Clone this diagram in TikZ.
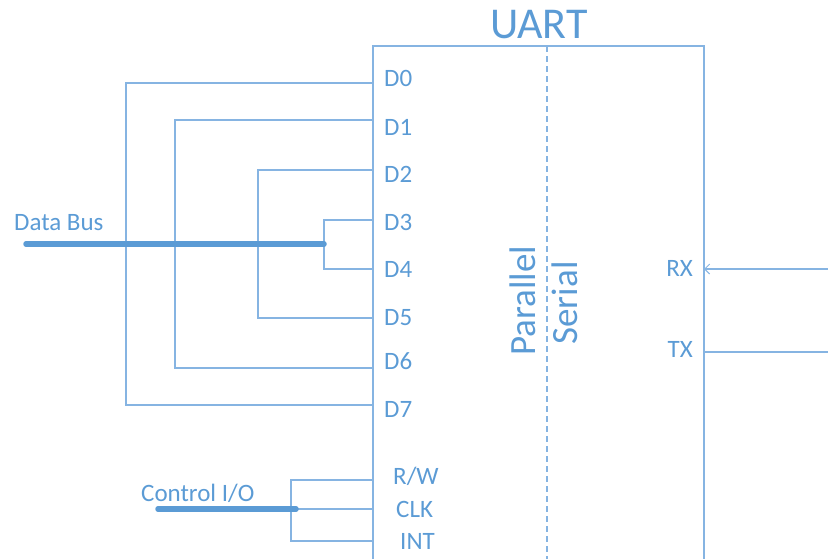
\documentclass[tikz,border=0pt]{standalone}
\usepackage{fontspec}
\setmainfont{Carlito}
\usetikzlibrary{arrows.meta}
\definecolor{txtblue}{HTML}{5B9BD5}
\definecolor{lineblue}{HTML}{86B4E2}
\definecolor{busblue}{HTML}{5B9BD5}
\begin{document}
\begin{tikzpicture}[x=1pt,y=-1pt,
  thin wire/.style={draw=lineblue,line width=1.3pt},
  bus/.style={draw=busblue,line width=5.5pt,line cap=round},
  pinlabel/.style={text=txtblue,font=\fontsize{25}{28}\selectfont,anchor=west,inner sep=0pt},
  biglabel/.style={text=txtblue,inner sep=0pt}]
\useasboundingbox (0,0) rectangle (828,558);
% box
\coordinate (boxtl) at (373,46);
\coordinate (boxtr) at (704,46);
\coordinate (boxbl) at (373,560);
\coordinate (boxbr) at (704,560);
\draw[thin wire] (boxbl) -- (boxtl) -- (boxtr) -- (boxbr);
\coordinate (dtop) at (547,46);
\coordinate (dbot) at (547,560);
\draw[thin wire,dash pattern=on 6pt off 4pt] (dtop) -- (dbot);
\node[biglabel,font=\fontsize{44}{48}\selectfont] (title) at (539,25) {UART};
\node[biglabel,font=\fontsize{37}{40}\selectfont,rotate=90] (par) at (523,301) {Parallel};
\node[biglabel,font=\fontsize{37}{40}\selectfont,rotate=90] (ser) at (565,303) {Serial};
% pin labels
\node[pinlabel] (d0) at (384,78) {D0};
\node[pinlabel] (d1) at (384,127) {D1};
\node[pinlabel] (d2) at (384,174) {D2};
\node[pinlabel] (d3) at (384,222) {D3};
\node[pinlabel] (d4) at (384,269) {D4};
\node[pinlabel] (d5) at (384,318) {D5};
\node[pinlabel] (d6) at (384,361) {D6};
\node[pinlabel] (d7) at (384,409) {D7};
\node[pinlabel] (rw) at (393,476) {R/W};
\node[pinlabel] (clk) at (396,509) {CLK};
\node[pinlabel] (int) at (400,541) {INT};
\node[pinlabel,anchor=east] (rx) at (693,268) {RX};
\node[pinlabel,anchor=east] (tx) at (693,349) {TX};
\node[pinlabel] (dbus) at (14,223) {Data Bus};
\node[pinlabel] (ctrl) at (141,493) {Control I/O};
% pin points on box
\coordinate (p0) at (373,83);
\coordinate (p1) at (373,120);
\coordinate (p2) at (373,170);
\coordinate (p3) at (373,220);
\coordinate (p4) at (373,269);
\coordinate (p5) at (373,318);
\coordinate (p6) at (373,368);
\coordinate (p7) at (373,405);
\coordinate (v07) at (126,83);
\coordinate (v16) at (175,120);
\coordinate (v25) at (258,170);
\coordinate (v34) at (324,220);
\draw[thin wire] (p0) -- (v07) |- (p7);
\draw[thin wire] (p1) -- (v16) |- (p6);
\draw[thin wire] (p2) -- (v25) |- (p5);
\draw[thin wire] (p3) -- (v34) |- (p4);
\coordinate (bs) at (26,244);
\coordinate (be) at (324,244);
\draw[bus] (bs) -- (be);
% control
\coordinate (prw) at (373,480);
\coordinate (pclk) at (373,509);
\coordinate (pint) at (373,541);
\coordinate (vc) at (291,480);
\draw[thin wire] (prw) -- (vc) |- (pint);
\draw[thin wire] (vc |- pclk) -- (pclk);
\coordinate (cs) at (158,509);
\coordinate (ce) at (296,509);
\draw[bus] (cs) -- (ce);
% serial
\coordinate (rxin) at (828,269);
\coordinate (rxp) at (704,269);
\coordinate (txout) at (828,352);
\coordinate (txp) at (704,352);
\draw[thin wire,-{Straight Barb[length=5pt,width=10pt,line width=1pt]}] (rxin) -- (rxp);
\draw[thin wire] (txp) -- (txout);
\end{tikzpicture}
\end{document}
